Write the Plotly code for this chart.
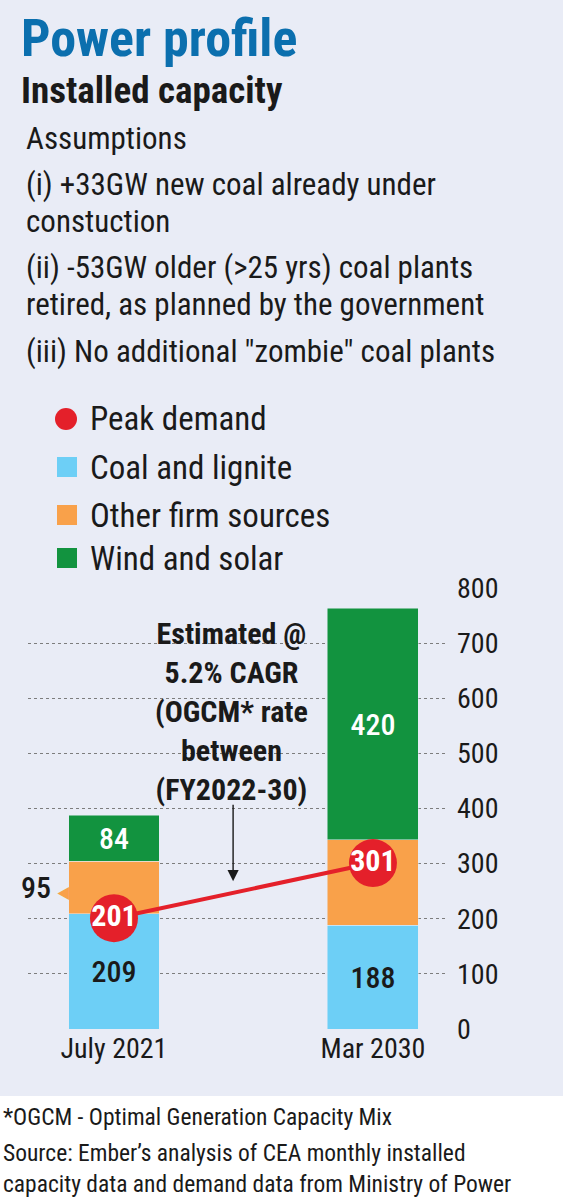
import plotly.graph_objects as go

# data
periods = ["July 2021", "Mar 2030"]
coal_lignite = [209, 188]
other_firm = [95, 155]
wind_solar = [84, 420]
peak_demand = [201, 301]
y_ticks = [0, 100, 200, 300, 400, 500, 600, 700, 800]

BLUE = "#6dcff6"
ORANGE = "#f9a14a"
GREEN = "#12933f"
RED = "#e4202a"
BG = "#e9ecf6"
DARK = "#1a1a1a"
FONT = "Roboto Condensed, DejaVu Sans Condensed, sans-serif"

W, H = 563, 1200


def px_x(x):
    return x / W


def px_y(y):
    return 1 - y / H


fig = go.Figure()

fig.add_trace(go.Bar(
    x=periods, y=coal_lignite, marker_color=BLUE, width=0.351,
    text=[str(v) for v in coal_lignite], textposition="inside",
    insidetextanchor="middle", textangle=0,
    textfont=dict(family=FONT, size=30, color=DARK, weight=500), name="Coal and lignite",
))
fig.add_trace(go.Bar(
    x=periods, y=other_firm, marker_color=ORANGE, width=0.351,
    textposition="none", name="Other firm sources",
))
fig.add_trace(go.Bar(
    x=periods, y=wind_solar, marker_color=GREEN, width=0.351,
    text=[str(v) for v in wind_solar], textposition="inside",
    insidetextanchor="middle", textangle=0,
    textfont=dict(family=FONT, size=30, color="white", weight=500), name="Wind and solar",
))
fig.add_trace(go.Scatter(
    x=periods, y=peak_demand, mode="lines+markers+text",
    line=dict(color=RED, width=4),
    marker=dict(size=48, color=RED),
    text=["<b>%d</b>" % v for v in peak_demand], textposition="middle center",
    textfont=dict(family=FONT, size=30, color="white"), name="Peak demand",
))

fig.update_layout(
    width=W, height=H, barmode="stack", showlegend=False,
    margin=dict(l=0, r=0, t=0, b=0, pad=0),
    paper_bgcolor=BG, plot_bgcolor=BG,
    font=dict(family=FONT, color=DARK),
    xaxis=dict(
        domain=[px_x(28), px_x(447)], range=[-0.332, 1.286], automargin=False,
        showgrid=False, zeroline=False, showline=False, ticks="",
        tickfont=dict(size=28, color=DARK),
    ),
    yaxis=dict(
        domain=[px_y(1029), px_y(588)], range=[0, 800], side="right", automargin=False,
        tickvals=y_ticks, showgrid=True, gridcolor="#7d7d7d", griddash="dot",
        gridwidth=1, zeroline=False, showline=False, ticks="",
        tickfont=dict(size=28, color=DARK), ticklabelstandoff=9,
    ),
)

# white footer band
fig.add_shape(type="rect", xref="paper", yref="paper", x0=0, x1=1,
              y0=0, y1=px_y(1096), fillcolor="white", line_width=0, layer="below")

# header and footer texts
header = [
    ("<b>Power profile</b>", 19, 39, 52, "#0b6fae"),
    ("<b>Installed capacity</b>", 19, 91, 37, DARK),
    ("Assumptions", 24, 138, 31, DARK),
    ("(i) +33GW new coal already under", 24, 184, 31, DARK),
    ("constuction", 24, 221, 31, DARK),
    ("(ii) -53GW older (>25 yrs) coal plants", 24, 267, 31, DARK),
    ("retired, as planned by the government", 24, 304, 31, DARK),
    ('(iii) No additional "zombie" coal plants', 24, 351, 31, DARK),
    ("*OGCM - Optimal Generation Capacity Mix", 1, 1117, 23.5, DARK),
    ("Source: Ember\u2019s analysis of CEA monthly installed", 1, 1153, 23.5, DARK),
    ("capacity data and demand data from Ministry of Power", 1, 1184, 23.5, DARK),
]
for txt, x, y, size, col in header:
    fig.add_annotation(text=txt, xref="paper", yref="paper", x=px_x(x), y=px_y(y),
                       xanchor="left", yanchor="middle", showarrow=False,
                       font=dict(size=size, color=col, family=FONT))

# manual legend
legend = [("Peak demand", RED, "circle", 419), ("Coal and lignite", BLUE, "rect", 467),
          ("Other firm sources", ORANGE, "rect", 515), ("Wind and solar", GREEN, "rect", 558)]
for name, col, kind, y in legend:
    if kind == "circle":
        fig.add_shape(type="circle", xref="paper", yref="paper",
                      x0=px_x(55), x1=px_x(77), y0=px_y(y + 11), y1=px_y(y - 11),
                      fillcolor=col, line_width=0)
    else:
        fig.add_shape(type="rect", xref="paper", yref="paper",
                      x0=px_x(57), x1=px_x(77), y0=px_y(y + 10), y1=px_y(y - 10),
                      fillcolor=col, line_width=0)
    fig.add_annotation(text=name, xref="paper", yref="paper", x=px_x(88), y=px_y(y),
                       xanchor="left", yanchor="middle", showarrow=False,
                       font=dict(size=33, color=DARK))

# label for the left orange segment
fig.add_annotation(
    x=periods[0], y=coal_lignite[0] + other_firm[0] / 2,
    text="%d<span style='color:%s;font-size:17px'>\u2009\u2009\u25c0</span>" % (other_firm[0], ORANGE),
    xanchor="right", yanchor="middle", xshift=-43, showarrow=False,
    font=dict(size=30, color=DARK, weight=500),
)

# estimate note and arrow
fig.add_annotation(
    text="<b>Estimated @<br>5.2% CAGR<br>(OGCM* rate<br>between<br>(FY2022-30)</b>",
    xref="paper", yref="paper", x=px_x(231), y=px_y(711),
    xanchor="center", yanchor="middle", showarrow=False, align="center",
    font=dict(size=30, color=DARK),
)
fig.add_annotation(
    x=0.46, y=268, text="", showarrow=True, ax=0, ay=-78,
    arrowhead=2, arrowsize=1.6, arrowwidth=1.4, arrowcolor=DARK,
)

fig.write_html("out.html", config={"displayModeBar": False},
               post_script="document.body.style.margin='0';")
